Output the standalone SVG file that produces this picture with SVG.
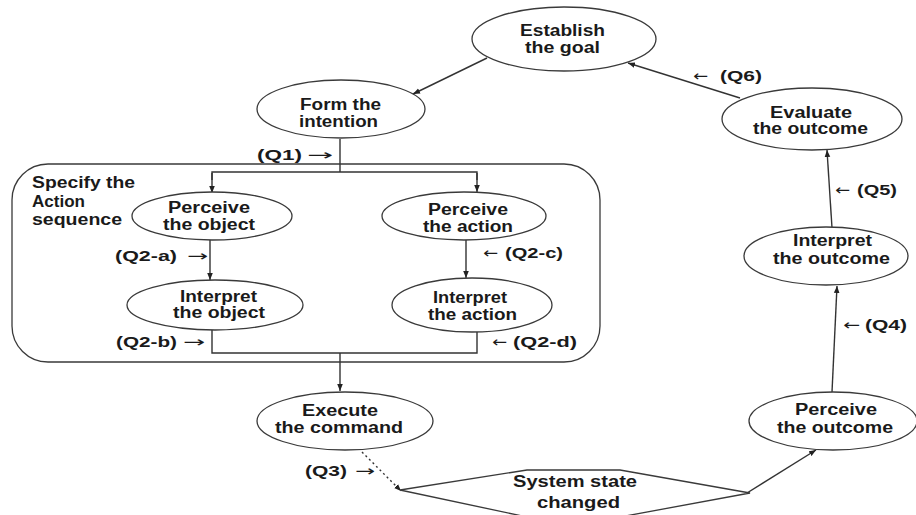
<svg xmlns="http://www.w3.org/2000/svg" width="916" height="515" viewBox="0 0 916 515">
<style>
.node{fill:#fff;stroke:#3a3a3a;stroke-width:1.3}
.t{font-family:"Liberation Sans","Arimo",Arial,sans-serif;font-size:16px;font-weight:bold;fill:#1a1a1a}
.q{font-family:"Liberation Sans",Arial,sans-serif;font-size:15px;font-weight:bold;fill:#1a1a1a}
.a{font-family:"DejaVu Sans",sans-serif;font-size:15px;font-weight:normal;fill:#1a1a1a}
.c{fill:none;stroke:#333;stroke-width:1.4}
</style>
<defs>
<marker id="ah" viewBox="0 0 10 10" refX="10" refY="5" markerWidth="7" markerHeight="7" orient="auto" markerUnits="userSpaceOnUse">
<path d="M0,1 L10,5 L0,9 z" fill="#222"/>
</marker>
</defs>
<rect width="916" height="515" fill="#fff"/>

<g id="specify">
<rect class="node" x="12" y="164" width="588" height="198" rx="36" ry="36"/>
<text class="t"><tspan x="32" y="188" textLength="103" lengthAdjust="spacingAndGlyphs">Specify the</tspan><tspan x="32" y="207" textLength="53" lengthAdjust="spacingAndGlyphs">Action</tspan><tspan x="32" y="225" textLength="90" lengthAdjust="spacingAndGlyphs">sequence</tspan></text>
</g>

<g id="connectors">
<line class="c" x1="487" y1="58" x2="413" y2="94" marker-end="url(#ah)"/>
<line class="c" x1="740" y1="98" x2="628" y2="63" marker-end="url(#ah)"/>
<line class="c" x1="832" y1="228" x2="827" y2="150" marker-end="url(#ah)"/>
<line class="c" x1="832" y1="392" x2="837" y2="286" marker-end="url(#ah)"/>
<line class="c" x1="747" y1="493" x2="816" y2="450" marker-end="url(#ah)"/>
<line class="c" x1="362" y1="452" x2="401" y2="491" stroke-dasharray="2,3" marker-end="url(#ah)"/>
<polyline class="c" points="340,139 340,172"/>
<polyline class="c" points="212,180 212,172 477,172 477,180"/>
<line class="c" x1="212" y1="173" x2="212" y2="193" marker-end="url(#ah)"/>
<line class="c" x1="477" y1="173" x2="477" y2="192" marker-end="url(#ah)"/>
<line class="c" x1="210" y1="240" x2="210" y2="280" marker-end="url(#ah)"/>
<line class="c" x1="466" y1="240" x2="466" y2="278" marker-end="url(#ah)"/>
<polyline class="c" points="212,330 212,353 477,353 477,332"/>
<line class="c" x1="340" y1="353" x2="340" y2="391" marker-end="url(#ah)"/>
</g>

<g id="establish">
<ellipse class="node" cx="564" cy="39" rx="92" ry="32"/>
<text class="t"><tspan x="520" y="36" textLength="85" lengthAdjust="spacingAndGlyphs">Establish</tspan><tspan x="525" y="53" textLength="75" lengthAdjust="spacingAndGlyphs">the goal</tspan></text>
</g>

<g id="form">
<ellipse class="node" cx="341" cy="109" rx="84" ry="29"/>
<text class="t"><tspan x="300" y="110" textLength="81" lengthAdjust="spacingAndGlyphs">Form the</tspan><tspan x="299" y="127" textLength="79" lengthAdjust="spacingAndGlyphs">intention</tspan></text>
</g>

<g id="evaluate">
<ellipse class="node" cx="812" cy="119" rx="90" ry="31"/>
<text class="t"><tspan x="770" y="118" textLength="82" lengthAdjust="spacingAndGlyphs">Evaluate</tspan><tspan x="753" y="134" textLength="115" lengthAdjust="spacingAndGlyphs">the outcome</tspan></text>
</g>

<g id="interpret-outcome">
<ellipse class="node" cx="826" cy="256" rx="82" ry="29"/>
<text class="t"><tspan x="793" y="246" textLength="79" lengthAdjust="spacingAndGlyphs">Interpret</tspan><tspan x="773" y="264" textLength="117" lengthAdjust="spacingAndGlyphs">the outcome</tspan></text>
</g>

<g id="perceive-outcome">
<ellipse class="node" cx="833" cy="421" rx="84" ry="29"/>
<text class="t"><tspan x="795" y="415" textLength="82" lengthAdjust="spacingAndGlyphs">Perceive</tspan><tspan x="777" y="433" textLength="116" lengthAdjust="spacingAndGlyphs">the outcome</tspan></text>
</g>

<g id="execute">
<ellipse class="node" cx="345" cy="421" rx="88" ry="29"/>
<text class="t"><tspan x="302" y="416" textLength="76" lengthAdjust="spacingAndGlyphs">Execute</tspan><tspan x="275" y="433" textLength="128" lengthAdjust="spacingAndGlyphs">the command</tspan></text>
</g>

<g id="perceive-object">
<ellipse class="node" cx="212" cy="216" rx="80" ry="24"/>
<text class="t"><tspan x="168" y="213" textLength="82" lengthAdjust="spacingAndGlyphs">Perceive</tspan><tspan x="163" y="230" textLength="92" lengthAdjust="spacingAndGlyphs">the object</tspan></text>
</g>

<g id="perceive-action">
<ellipse class="node" cx="464" cy="216" rx="82" ry="24"/>
<text class="t"><tspan x="428" y="215" textLength="80" lengthAdjust="spacingAndGlyphs">Perceive</tspan><tspan x="423" y="232" textLength="90" lengthAdjust="spacingAndGlyphs">the action</tspan></text>
</g>

<g id="interpret-object">
<ellipse class="node" cx="215" cy="305" rx="88" ry="25"/>
<text class="t"><tspan x="180" y="302" textLength="77" lengthAdjust="spacingAndGlyphs">Interpret</tspan><tspan x="173" y="318" textLength="92" lengthAdjust="spacingAndGlyphs">the object</tspan></text>
</g>

<g id="interpret-action">
<ellipse class="node" cx="472" cy="305" rx="80" ry="27"/>
<text class="t"><tspan x="433" y="303" textLength="74" lengthAdjust="spacingAndGlyphs">Interpret</tspan><tspan x="428" y="320" textLength="89" lengthAdjust="spacingAndGlyphs">the action</tspan></text>
</g>

<g id="system-state">
<polygon class="node" points="400,490 527,470 620,470 750,493 620,517 527,517"/>
<text class="t"><tspan x="513" y="487" textLength="124" lengthAdjust="spacingAndGlyphs">System state</tspan><tspan x="537" y="508" textLength="83" lengthAdjust="spacingAndGlyphs">changed</tspan></text>
</g>

<g id="labels">
<text class="q" x="257" y="160" textLength="45" lengthAdjust="spacingAndGlyphs">(Q1)</text>
<text class="a" x="307" y="160" textLength="26" lengthAdjust="spacingAndGlyphs">→</text>
<text class="q" x="115" y="261" textLength="62" lengthAdjust="spacingAndGlyphs">(Q2-a)</text>
<text class="a" x="187" y="261" textLength="21" lengthAdjust="spacingAndGlyphs">→</text>
<text class="q" x="116" y="347" textLength="61" lengthAdjust="spacingAndGlyphs">(Q2-b)</text>
<text class="a" x="183" y="347" textLength="22" lengthAdjust="spacingAndGlyphs">→</text>
<text class="a" x="483" y="258" textLength="15" lengthAdjust="spacingAndGlyphs">←</text>
<text class="q" x="505" y="258" textLength="58" lengthAdjust="spacingAndGlyphs">(Q2-c)</text>
<text class="a" x="492" y="347" textLength="15" lengthAdjust="spacingAndGlyphs">←</text>
<text class="q" x="513" y="347" textLength="64" lengthAdjust="spacingAndGlyphs">(Q2-d)</text>
<text class="q" x="305" y="476" textLength="42" lengthAdjust="spacingAndGlyphs">(Q3)</text>
<text class="a" x="355" y="476" textLength="20" lengthAdjust="spacingAndGlyphs">→</text>
<text class="a" x="843" y="330" textLength="17" lengthAdjust="spacingAndGlyphs">←</text>
<text class="q" x="865" y="330" textLength="42" lengthAdjust="spacingAndGlyphs">(Q4)</text>
<text class="a" x="835" y="195" textLength="15" lengthAdjust="spacingAndGlyphs">←</text>
<text class="q" x="857" y="195" textLength="40" lengthAdjust="spacingAndGlyphs">(Q5)</text>
<text class="a" x="693" y="81" textLength="15" lengthAdjust="spacingAndGlyphs">←</text>
<text class="q" x="720" y="81" textLength="42" lengthAdjust="spacingAndGlyphs">(Q6)</text>
</g>
</svg>
